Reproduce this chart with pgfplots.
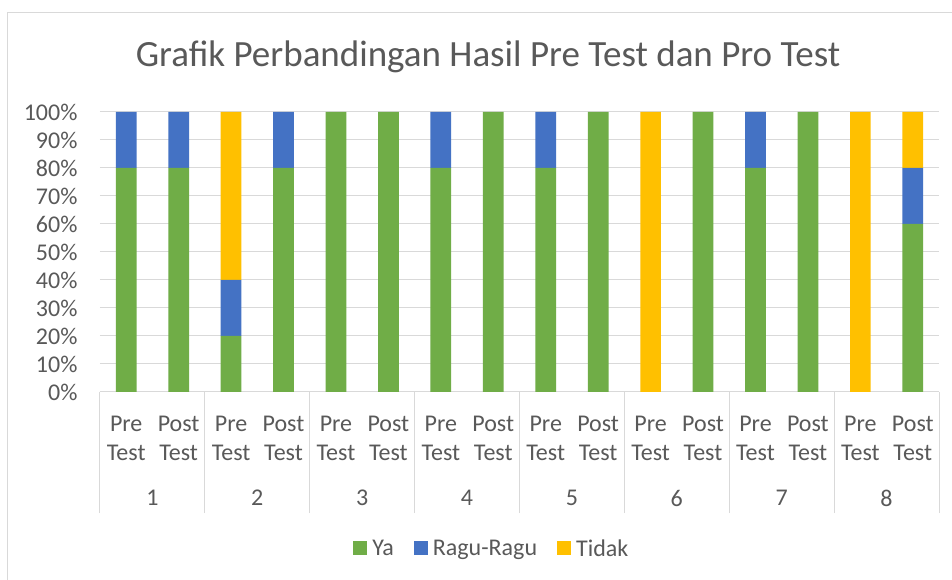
\documentclass[border=0pt]{standalone}
\usepackage{pgfplots}
\pgfplotsset{compat=1.18}
\usepackage{fontspec}
\setmainfont{Carlito}
\definecolor{cYa}{HTML}{70AD47}
\definecolor{cRagu}{HTML}{4472C4}
\definecolor{cTidak}{HTML}{FFC000}
\definecolor{txt}{HTML}{595959}
\definecolor{grd}{HTML}{D9D9D9}
\newcommand{\lblfont}{\fontsize{24}{29}\selectfont}
\begin{document}
\begin{tikzpicture}[x=1pt,y=1pt]
\fill[white] (0,0) rectangle (952,580);
\useasboundingbox (0,0) rectangle (952,580);
\draw[grd, line width=1pt] (7.5,0) -- (7.5,567.5) -- (952,567.5);
\node[text=txt, font=\fontsize{37}{44}\selectfont] at (488,523) {Grafik Perbandingan Hasil Pre Test dan Pro Test};
\begin{axis}[
  at={(100pt,188pt)}, anchor=south west,
  scale only axis, width=839pt, height=280pt,
  xmin=-0.5, xmax=15.5, ymin=0, ymax=100,
  ybar stacked, bar width=20.7pt,
  clip=false,
  axis x line*=bottom, axis y line*=left,
  x axis line style={grd, line width=1pt, -},
  y axis line style={draw=none},
  major tick length=0pt,
  ytick={0,10,...,100},
  yticklabel={\pgfmathprintnumber{\tick}\%},
  /pgf/number format/assume math mode=true,
  yticklabel style={text=txt, font=\lblfont, xshift=-19pt},
  ymajorgrids, grid style={grd, line width=1pt},
  xtick={0,...,15},
  xticklabels={{Pre\\Test},{Post\\Test},{Pre\\Test},{Post\\Test},{Pre\\Test},{Post\\Test},{Pre\\Test},{Post\\Test},{Pre\\Test},{Post\\Test},{Pre\\Test},{Post\\Test},{Pre\\Test},{Post\\Test},{Pre\\Test},{Post\\Test}},
  xticklabel style={align=center, text=txt, font=\lblfont, yshift=-21pt},
  extra x ticks={-0.5,1.5,3.5,5.5,7.5,9.5,11.5,13.5,15.5},
  extra x tick labels={},
  extra x tick style={xtick align=outside, major tick length=121pt, tick style={grd, line width=1pt}, grid=none},
  legend style={at={(0.467,-0.559)}, anchor=center, draw=none, legend columns=3,
    font=\lblfont, text=txt,
    /tikz/every odd column/.append style={column sep=3pt},
    /tikz/every even column/.append style={column sep=18pt}},
  legend image code/.code={\fill[#1] (0pt,-6.5pt) rectangle (14pt,7.5pt);},
]
\addplot[fill=cYa, draw=none] coordinates {(0,80) (1,80) (2,20) (3,80) (4,100) (5,100) (6,80) (7,100) (8,80) (9,100) (10,0) (11,100) (12,80) (13,100) (14,0) (15,60)};
\addplot[fill=cRagu, draw=none] coordinates {(0,20) (1,20) (2,20) (3,20) (4,0) (5,0) (6,20) (7,0) (8,20) (9,0) (10,0) (11,0) (12,20) (13,0) (14,0) (15,20)};
\addplot[fill=cTidak, draw=none] coordinates {(0,0) (1,0) (2,60) (3,0) (4,0) (5,0) (6,0) (7,0) (8,0) (9,0) (10,100) (11,0) (12,0) (13,0) (14,100) (15,20)};
\legend{Ya, Ragu-Ragu, Tidak}
\pgfplotsinvokeforeach{1,...,8}{
  \node[text=txt, font=\lblfont, yshift=-106pt] at (axis cs:{2*#1-1.5},0) {#1};
}
\end{axis}
\end{tikzpicture}
\end{document}
